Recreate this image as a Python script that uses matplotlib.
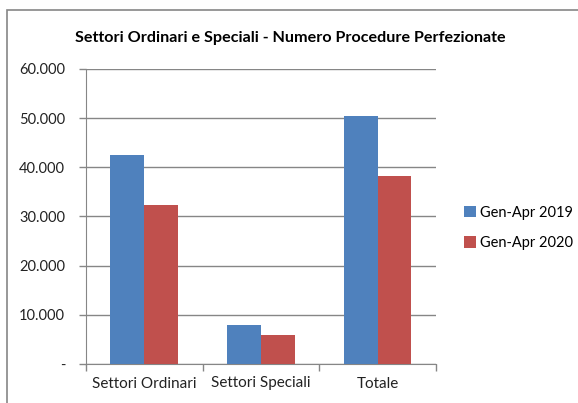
import numpy as np
import matplotlib
matplotlib.use("Agg")
from matplotlib import pyplot as plt
from matplotlib.patches import Rectangle
from matplotlib.ticker import FuncFormatter, FixedLocator

plt.rcParams['font.family'] = ['Lato', 'DejaVu Sans']

categories = ["Settori Ordinari", "Settori Speciali", "Totale"]
series_names = ["Gen-Apr 2019", "Gen-Apr 2020"]
values_2019 = [42500, 7900, 50500]
values_2020 = [32300, 5900, 38200]
colors = ["#4F81BD", "#C0504D"]
grid_color = "#868686"


def fmt_thousands(v, pos):
    if v == 0:
        return "-"
    return f"{int(v):,}".replace(",", ".")


fig = plt.figure(figsize=(5.78, 4.03), dpi=100)
ax = fig.add_axes([86 / 578, 39 / 403, 350 / 578, 295 / 403])

# outer chart border (only top and left visible in the original)
fig.patches.append(Rectangle((7 / 578, -0.1), 1.2, (393 / 403) + 0.1,
                             transform=fig.transFigure, fill=False,
                             edgecolor=grid_color, lw=1.2))

x = np.arange(len(categories))
w = 0.29
ax.bar(x - w / 2, values_2019, w, color=colors[0], label=series_names[0], zorder=3)
ax.bar(x + w / 2, values_2020, w, color=colors[1], label=series_names[1], zorder=3)

ax.set_xlim(-0.5, 2.5)
ax.set_ylim(0, 60000)
ax.set_yticks(np.arange(0, 60001, 10000))
ax.yaxis.set_major_formatter(FuncFormatter(fmt_thousands))
ax.grid(axis="y", color=grid_color, lw=1.0, zorder=0)

ax.set_xticks(x)
ax.set_xticklabels(categories)
ax.tick_params(axis="x", length=0, pad=9, labelsize=11, labelcolor="#222222")
ax.xaxis.set_minor_locator(FixedLocator([-0.5, 0.5, 1.5, 2.5]))
ax.tick_params(axis="x", which="minor", length=5, color=grid_color, width=1.0)
ax.tick_params(axis="y", length=5, color=grid_color, width=1.0, pad=10,
               labelsize=10.5, labelcolor="#222222")

for s in ["top", "right"]:
    ax.spines[s].set_visible(False)
ax.spines["left"].set_color(grid_color)
ax.spines["bottom"].set_color(grid_color)

fig.text(290 / 578, 1 - 38 / 403,
         "Settori Ordinari e Speciali - Numero Procedure Perfezionate",
         ha="center", va="center", fontsize=11.6, fontweight="bold")

ax.legend(loc="center left", bbox_to_anchor=(458 / 578, 1 - 228 / 403),
          bbox_transform=fig.transFigure, frameon=False, fontsize=10.5,
          handlelength=0.8, handleheight=0.8, handletextpad=0.3,
          labelspacing=1.1, borderaxespad=0)

fig.savefig("out.png", dpi=100)
